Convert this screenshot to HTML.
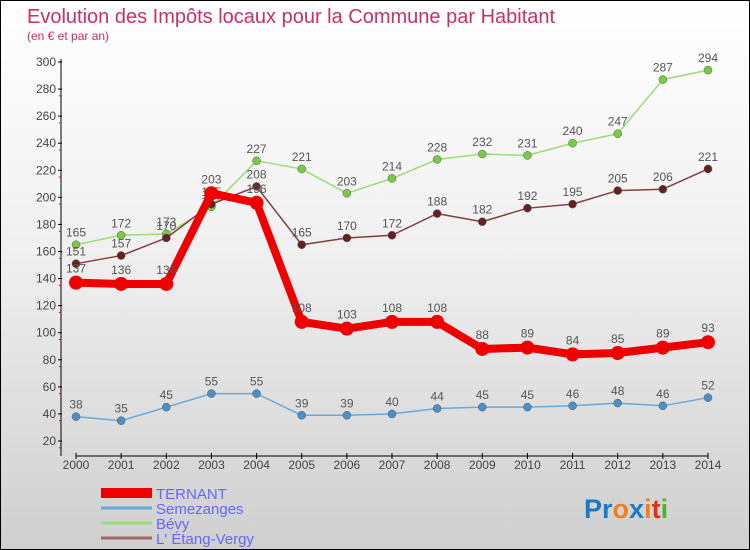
<!DOCTYPE html>
<html><head><meta charset="utf-8"><style>
body{margin:0}
#c{position:relative;width:748px;height:548px;border:1px solid #000;background:linear-gradient(#fff 0%,#f0f0f0 45%,#cfcfcf 100%);font-family:"Liberation Sans",sans-serif;overflow:hidden}
svg{position:absolute;left:0;top:0}
</style></head><body>
<div id="c">
<svg id="s" width="748" height="548">
<text x="26" y="22" font-size="20" fill="#c8306a">Evolution des Impôts locaux pour la Commune par Habitant</text>
<text x="26" y="39" font-size="12" fill="#c8306a">(en € et par an)</text>
<g id="axes"></g><g id="series"></g><g id="legend"></g>
<text x="583" y="517" font-size="27" font-weight="bold"><tspan fill="#1a7ac8">Pr</tspan><tspan fill="#f08020">o</tspan><tspan fill="#1a7ac8">x</tspan><tspan fill="#f08020">i</tspan><tspan fill="#e03020">t</tspan><tspan fill="#50b030">i</tspan></text>
</svg></div>
<script>
const years=[2000,2001,2002,2003,2004,2005,2006,2007,2008,2009,2010,2011,2012,2013,2014];
const yTicks=[20,40,60,80,100,120,140,160,180,200,220,240,260,280,300];
const ternant=[137,136,136,203,196,108,103,108,108,88,89,84,85,89,93];
const semezanges=[38,35,45,55,55,39,39,40,44,45,45,46,48,46,52];
const bevy=[165,172,173,193,227,221,203,214,228,232,231,240,247,287,294];
const etang=[151,157,170,195,208,165,170,172,188,182,192,195,205,206,221];
const NS="http://www.w3.org/2000/svg";
function X(i){return 75+i*(632/14);}
function Y(v){return 440-(v-20)*(379/280);}
function mk(t,a,p){const e=document.createElementNS(NS,t);for(const k in a)e.setAttribute(k,a[k]);p.appendChild(e);return e;}
const ax=document.getElementById('axes');
const yl=mk('line',{x1:60,y1:58,x2:60,y2:455,stroke:'#000','stroke-width':1},ax);


const xl=mk('line',{x1:75,y1:455,x2:707,y2:455,stroke:'#000','stroke-width':1},ax);


yTicks.forEach(v=>{const y=Y(v);
mk('line',{x1:57,y1:y,x2:61,y2:y,stroke:'#000'},ax);
if(v<300)mk('line',{x1:58,y1:y+6.8,x2:60,y2:y+6.8,stroke:'#e00'},ax);
const t=mk('text',{x:55,y:y+4,'font-size':12,fill:'#444','text-anchor':'end'},ax);t.textContent=v;

});
years.forEach((yr,i)=>{const x=X(i);
mk('line',{x1:x,y1:452,x2:x,y2:458,stroke:'#000'},ax);
const t=mk('text',{x:x,y:468,'font-size':12,fill:'#444','text-anchor':'middle'},ax);t.textContent=yr;

});
const sg=document.getElementById('series');
const defs=[
{d:bevy,c:'#99dd77',pc:'#77cc44',w:1.5,r:4,n:'bevy'},
{d:etang,c:'#804040',pc:'#662222',w:1.5,r:4,n:'etang-vergy'},
{d:semezanges,c:'#6aa8d8',pc:'#4a90c8',w:1.5,r:4,n:'semezanges'},
{d:ternant,c:'#ee0000',pc:'#ee0000',w:8,r:7,n:'ternant'}];
defs.forEach(s=>{const g=mk('g',{},sg);


const pl=mk('polyline',{points:s.d.map((v,i)=>X(i)+','+Y(v)).join(' '),fill:'none',stroke:s.c,'stroke-width':s.w,'stroke-linejoin':'round'},g);


s.d.forEach((v,i)=>{const c=mk('circle',{cx:X(i),cy:Y(v),r:s.r,fill:s.pc,stroke:s.n==='ternant'?'none':'#555','stroke-width':0.5},g);


const t=mk('text',{x:X(i),y:Y(v)-(s.n==='ternant'?10:8),'font-size':12,fill:'#555','text-anchor':'middle'},g);t.textContent=v;

});});
const lg=document.getElementById('legend');
[['TERNANT','#ee0000',10],['Semezanges','#6aa8d8',3],['Bévy','#99dd77',3],["L' Étang-Vergy",'#a06868',3]].forEach((e,i)=>{const y=492+i*15;
const g=mk('g',{},lg);


mk('line',{x1:100,y1:y,x2:151,y2:y,stroke:e[1],'stroke-width':e[2]},g);
const t=mk('text',{x:155,y:y+6,'font-size':15,fill:'#6666ff'},g);t.textContent=e[0];});
</script></body></html>
